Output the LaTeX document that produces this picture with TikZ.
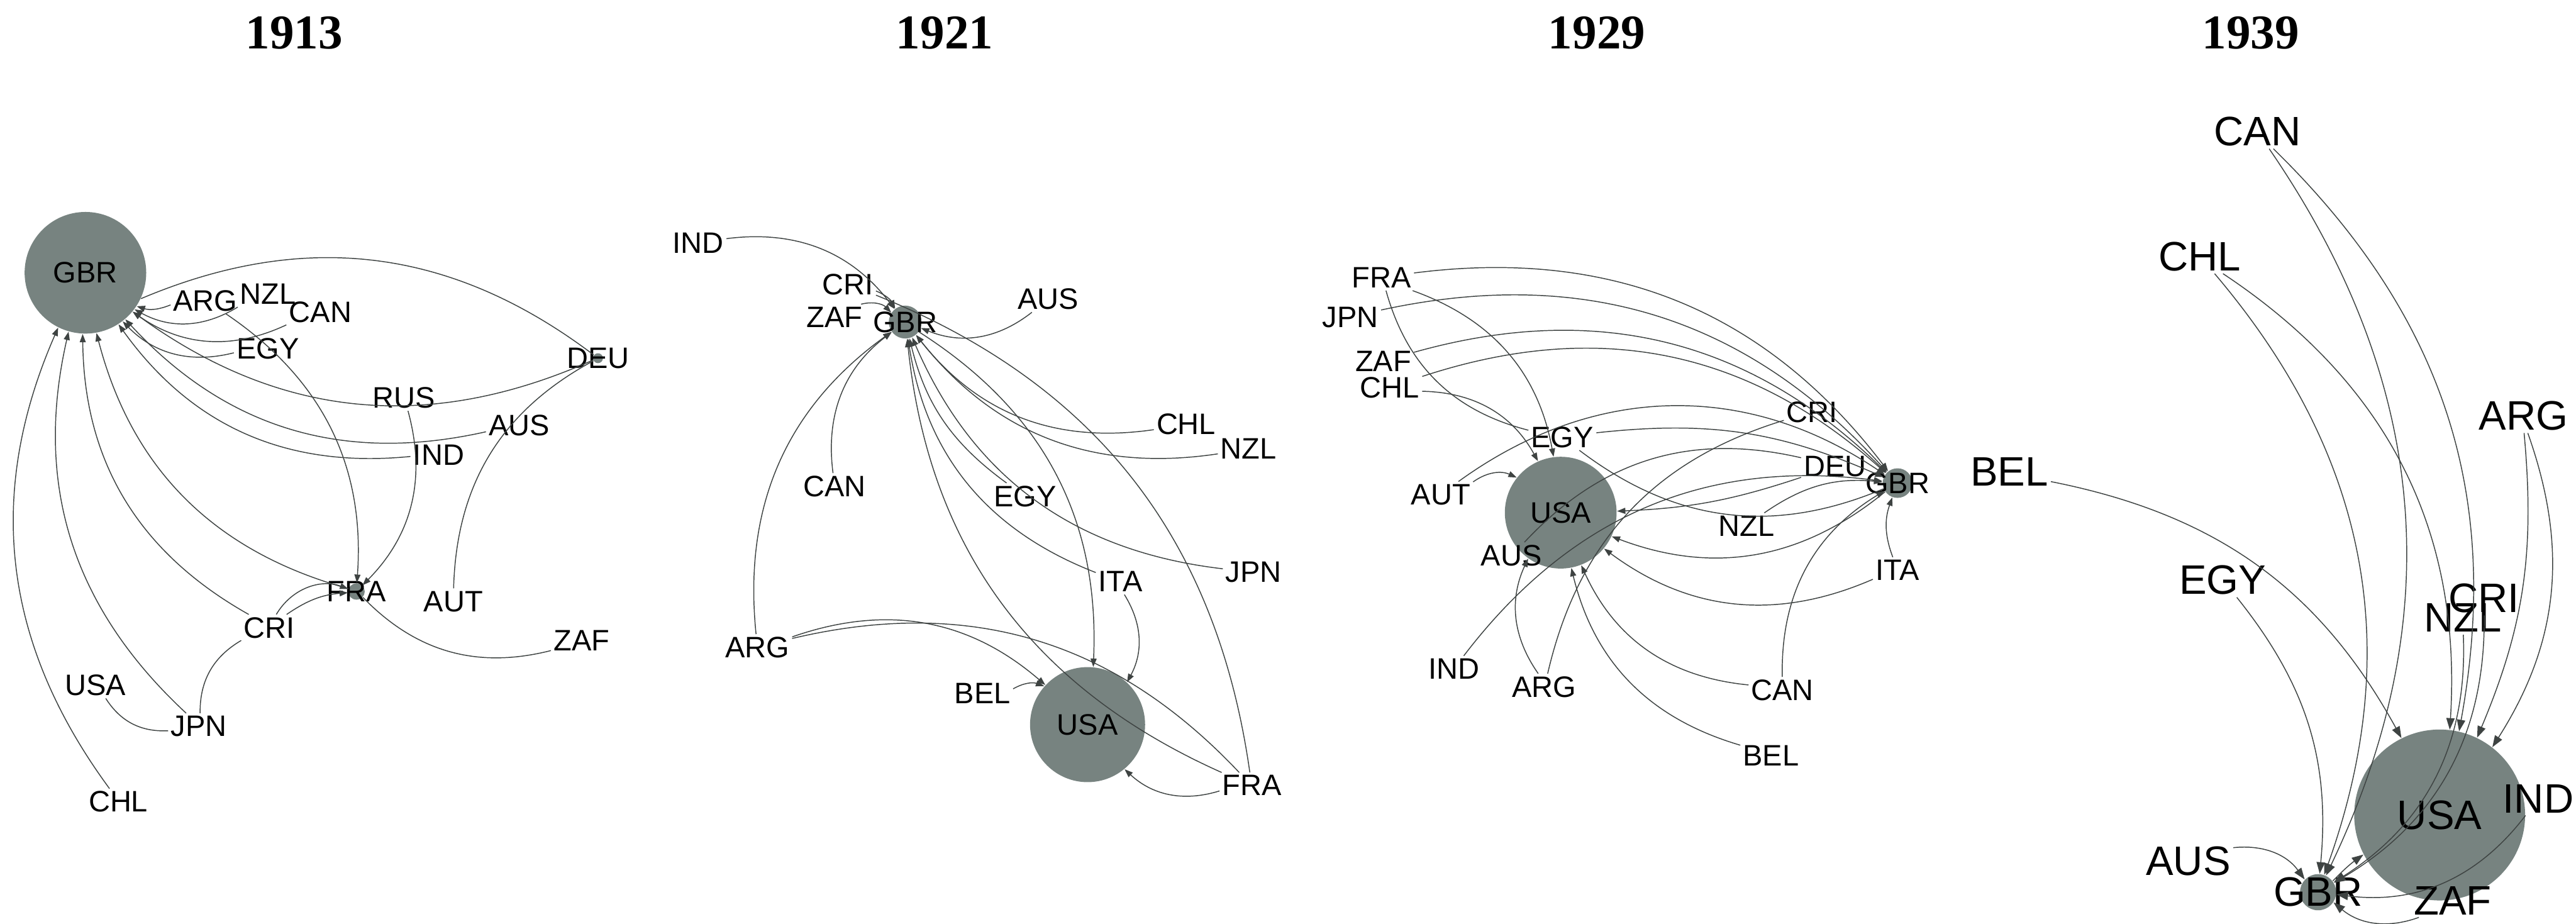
\documentclass[tikz,border=0pt]{standalone}
\usepackage{fontspec}
\setmainfont{Liberation Sans}
\newfontfamily\yearfont{Liberation Serif}
\usetikzlibrary{arrows.meta}
\definecolor{hubgrey}{HTML}{778380}
\definecolor{linkgrey}{HTML}{3E4342}

\begin{document}
\begin{tikzpicture}[x=0.025cm, y=-0.025cm,
  lbl/.style={font=\fontsize{12.8}{14}\selectfont, inner sep=1pt},
  biglbl/.style={font=\fontsize{17.8}{20}\selectfont, inner sep=1pt},
  hub/.style={circle, fill=hubgrey, inner sep=0pt},
  year/.style={font=\yearfont\bfseries\fontsize{21}{24}\selectfont},
  lnk/.style={draw=linkgrey, line width=0.4pt},
  arr/.style={lnk, -{Triangle[length=3.6pt,width=2.6pt]}},
  bigarr/.style={lnk, -{Triangle[length=5pt,width=3.6pt]}},
]
\useasboundingbox (0,0) rectangle (1568,562);

% 1913
\node[year] (y13) at (179,20) {1913};
\node[hub, minimum size=1.85cm, label={[lbl]center:GBR}] (gbr13) at (52,166) {};
\node[lbl] (arg13) at (125,183) {ARG};
\node[lbl] (nzl13) at (163,179) {NZL};
\node[lbl] (can13) at (195,190) {CAN};
\node[lbl] (egy13) at (163,212) {EGY};
\node[hub, minimum size=0.15cm, label={[lbl]center:DEU}] (deu13) at (364,218) {};
\node[lbl] (rus13) at (246,242) {RUS};
\node[lbl] (aus13) at (316,259) {AUS};
\node[lbl] (ind13) at (267,277) {IND};
\node[hub, minimum size=0.25cm, label={[lbl]center:FRA}] (fra13) at (217,360) {};
\node[lbl] (aut13) at (276,366) {AUT};
\node[lbl] (zaf13) at (354,390) {ZAF};
\node[lbl] (cri13) at (164,382) {CRI};
\node[lbl] (usa13) at (58,417) {USA};
\node[lbl] (jpn13) at (121,442) {JPN};
\node[lbl] (chl13) at (72,488) {CHL};

\draw[arr] (chl13) to[bend left=30] (gbr13);
\draw[arr] (jpn13) to[bend left=30] (gbr13);
\draw[arr] (cri13) to[bend left=30] (gbr13);
\draw[arr] (fra13) to[bend left=30] (gbr13);
\draw[arr] (ind13) to[bend left=30] (gbr13);
\draw[arr] (aus13) to[bend left=30] (gbr13);
\draw[arr] (deu13) to[bend left=30] (gbr13);
\draw[arr] (egy13) to[bend left=30] (gbr13);
\draw[arr] (can13) to[bend left=30] (gbr13);
\draw[arr] (nzl13) to[bend left=30] (gbr13);
\draw[arr] (arg13) to[bend left=20] (gbr13);
\draw[lnk] (gbr13.-25) to[bend left=30] (deu13);
\draw[arr] (arg13) to[bend left=30] (fra13);
\draw[arr] (rus13) to[bend left=30] (fra13);
\draw[arr] (cri13) to[bend left=40] (fra13);
\draw[arr] (cri13) to[bend left=15] (fra13);
\draw[lnk] (aut13) to[bend left=30] (deu13);
\draw[lnk] (zaf13) to[bend left=30] (fra13);
\draw[lnk] (jpn13) to[bend left=30] (usa13);
\draw[lnk] (jpn13) to[bend left=30] (cri13);

% 1921
\node[year] (y21) at (575,20) {1921};
\node[hub, minimum size=0.5cm, label={[lbl]center:GBR}] (gbr21) at (551,196) {};
\node[hub, minimum size=1.75cm, label={[lbl]center:USA}] (usa21) at (662,441) {};
\node[lbl] (ind21) at (425,148) {IND};
\node[lbl] (cri21) at (516,173) {CRI};
\node[lbl] (zaf21) at (508,193) {ZAF};
\node[lbl] (aus21) at (638,182) {AUS};
\node[lbl] (chl21) at (722,258) {CHL};
\node[lbl] (nzl21) at (760,273) {NZL};
\node[lbl] (can21) at (508,296) {CAN};
\node[lbl] (egy21) at (624,302) {EGY};
\node[lbl] (ita21) at (682,354) {ITA};
\node[lbl] (jpn21) at (763,348) {JPN};
\node[lbl] (arg21) at (461,394) {ARG};
\node[lbl] (bel21) at (598,422) {BEL};
\node[lbl] (fra21) at (762,478) {FRA};

\draw[arr] (ind21) to[bend left=30] (gbr21);
\draw[arr] (cri21) to[bend left=20] (gbr21);
\draw[arr] (zaf21) to[bend left=30] (gbr21);
\draw[arr] (aus21) to[bend left=30] (gbr21);
\draw[arr] (chl21) to[bend left=30] (gbr21);
\draw[arr] (nzl21) to[bend left=30] (gbr21);
\draw[arr] (can21) to[bend left=30] (gbr21);
\draw[arr] (egy21) to[bend left=20] (gbr21);
\draw[arr] (jpn21) to[bend left=30] (gbr21);
\draw[arr] (ita21) to[bend left=30] (gbr21);
\draw[arr] (arg21) to[bend left=30] (gbr21);
\draw[arr] (fra21) to[bend left=30] (gbr21);
\draw[arr] (gbr21) to[bend left=30] (usa21);
\draw[arr] (ita21) to[bend left=30] (usa21);
\draw[arr] (arg21) to[bend left=30] (usa21);
\draw[arr] (bel21) to[bend left=25] (usa21);
\draw[arr] (fra21) to[bend left=30] (usa21);
\draw[lnk] (arg21) to[bend left=30] (fra21);
\draw[lnk] (cri21) to[bend left=30] (fra21);

% 1929
\node[year] (y29) at (972,20) {1929};
\node[hub, minimum size=0.45cm, label={[lbl]center:GBR}] (gbr29) at (1155,294) {};
\node[hub, minimum size=1.7cm, label={[lbl]center:USA}] (usa29) at (950,312) {};
\node[lbl] (fra29) at (841,169) {FRA};
\node[lbl] (jpn29) at (822,193) {JPN};
\node[lbl] (zaf29) at (842,220) {ZAF};
\node[lbl] (chl29) at (846,236) {CHL};
\node[lbl] (egy29) at (951,266) {EGY};
\node[lbl] (cri29) at (1103,251) {CRI};
\node[lbl] (deu29) at (1117,284) {DEU};
\node[lbl] (aut29) at (877,301) {AUT};
\node[lbl] (nzl29) at (1063,320) {NZL};
\node[lbl] (aus29) at (920,338) {AUS};
\node[lbl] (ita29) at (1155,347) {ITA};
\node[lbl] (ind29) at (885,407) {IND};
\node[lbl] (arg29) at (940,418) {ARG};
\node[lbl] (can29) at (1085,420) {CAN};
\node[lbl] (bel29) at (1078,460) {BEL};

\draw[arr] (fra29) to[bend left=30] (gbr29);
\draw[arr] (jpn29) to[bend left=30] (gbr29);
\draw[arr] (zaf29) to[bend left=30] (gbr29);
\draw[arr] (chl29) to[bend left=30] (gbr29);
\draw[arr] (aut29) to[bend left=35] (gbr29);
\draw[arr] (egy29) to[bend left=15] (gbr29);
\draw[arr] (ind29) to[bend left=30] (gbr29);
\draw[arr] (can29) to[bend left=30] (gbr29);
\draw[arr] (ita29) to[bend left=20] (gbr29);
\draw[arr] (nzl29) to[bend left=20] (gbr29);
\draw[arr] (fra29) to[bend left=30] (usa29);
\draw[arr] (chl29) to[bend left=30] (usa29);
\draw[arr] (aut29) to[bend left=30] (usa29);
\draw[arr] (arg29) to[bend left=30] (usa29);
\draw[arr] (bel29) to[bend left=30] (usa29);
\draw[arr] (can29) to[bend left=30] (usa29);
\draw[arr] (ita29) to[bend left=30] (usa29);
\draw[arr] (gbr29) to[bend left=30] (usa29);
\draw[arr] (deu29) to[bend left=8] (usa29);
\draw[lnk] (gbr29) to[bend left=30] (egy29);
\draw[lnk] (egy29) to[bend left=30] (fra29);
\draw[lnk] (arg29) to[bend left=30] (cri29);
\draw[lnk] (aus29) to[bend left=30] (deu29);

% 1939
\node[year] (y39) at (1370,20) {1939};
\node[hub, minimum size=2.6cm, label={[biglbl]center:USA}] (usa39) at (1485,496) {};
\node[hub, minimum size=0.55cm, label={[biglbl]center:GBR}] (gbr39) at (1411,543) {};
\node[biglbl] (can39) at (1374,80) {CAN};
\node[biglbl] (chl39) at (1339,156) {CHL};
\node[biglbl] (arg39) at (1536,253) {ARG};
\node[biglbl] (bel39) at (1223,287) {BEL};
\node[biglbl] (egy39) at (1353,353) {EGY};
\node[biglbl] (cri39) at (1512,364) {CRI};
\node[biglbl] (nzl39) at (1499,376) {NZL};
\node[biglbl] (ind39) at (1545,486) {IND};
\node[biglbl] (aus39) at (1332,524) {AUS};
\node[biglbl] (zaf39) at (1493,548) {ZAF};

\draw[bigarr] (can39) to[bend left=30] (gbr39);
\draw[bigarr] (can39) to[bend left=28] (usa39);
\draw[bigarr] (chl39) to[bend left=30] (gbr39);
\draw[bigarr] (chl39) to[bend left=30] (usa39);
\draw[bigarr] (arg39) to[bend left=14] (usa39);
\draw[bigarr] (arg39) to[bend left=26] (usa39);
\draw[bigarr] (bel39) to[bend left=25] (usa39);
\draw[bigarr] (egy39) to[bend left=22] (gbr39);
\draw[bigarr] (aus39) to[bend left=30] (gbr39);
\draw[bigarr] (ind39) to[bend left=30] (gbr39);
\draw[bigarr] (zaf39) to[bend left=30] (gbr39);
\draw[bigarr] (nzl39) to[bend left=30] (gbr39);
\draw[bigarr] (cri39) to[bend left=30] (gbr39);
\draw[bigarr] (gbr39) to[bend left=5] (usa39);
\end{tikzpicture}
\end{document}
